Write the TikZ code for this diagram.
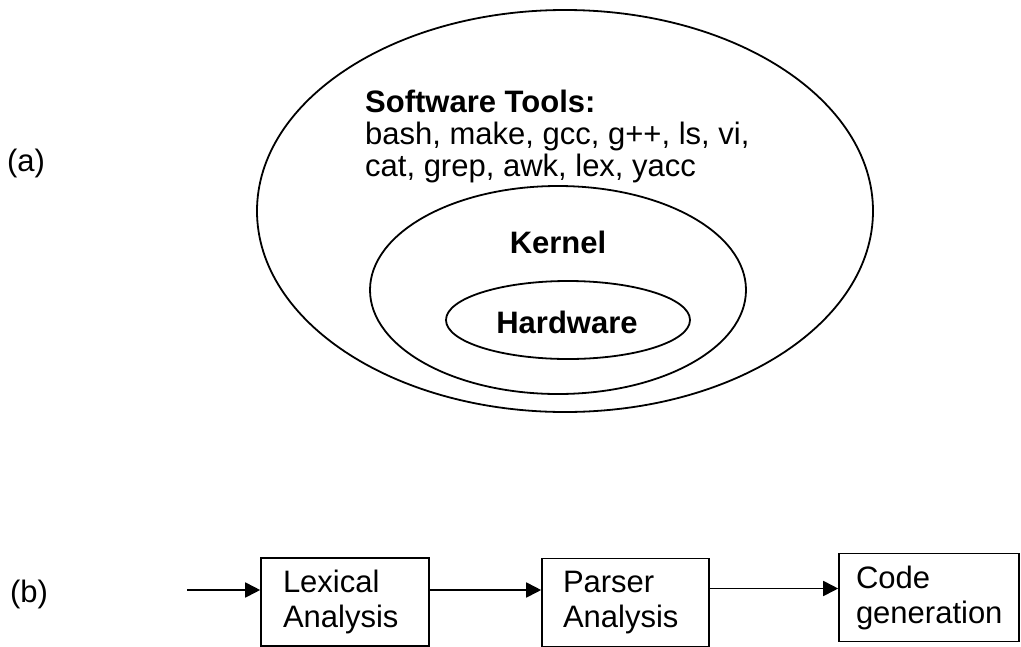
\documentclass[tikz,border=0pt]{standalone}
\usepackage{fontspec}
\setmainfont{Liberation Sans}
\usetikzlibrary{positioning, arrows.meta}

\tikzset{
  layer/.style={line width=1.8pt},
  stage/.style={draw, line width=1.6pt, align=left, inner ysep=0pt, minimum height=88pt},
  flow/.style={line width=1.8pt, -{Triangle[length=15pt, width=15pt]}},
}

\begin{document}
\begin{tikzpicture}[x=1pt, y=-1pt, font=\fontsize{31}{35}\selectfont]
    \useasboundingbox (0,0) rectangle (1021,646);
    % (a) nested layers
    \draw[layer] (565,211) ellipse [x radius=308, y radius=201];
    \draw[layer] (558,290) ellipse [x radius=188, y radius=104];
    \draw[layer] (568,320) ellipse [x radius=122, y radius=39];
    \node (labelA) at (26,163) {(a)};
    \node[anchor=west, align=left, inner sep=0pt, font=\fontsize{31}{32}\selectfont] (tools) at (365,136)
        {\textbf{Software Tools:}\\bash, make, gcc, g++, ls, vi,\\cat, grep, awk, lex, yacc};
    \node (kernel) at (558,242) {\textbf{Kernel}};
    \node (hardware) at (567,322) {\textbf{Hardware}};
    % (b) compiler stages
    \node (labelB) at (29,594) {(b)};
    \node[stage, inner xsep=22pt, text width=124pt] (lexical) at (345,602) {Lexical\\Analysis};
    \node[stage, inner xsep=21pt, text width=125pt] (parser) at (625.5,602.5) {Parser\\Analysis};
    \node[stage, inner xsep=17pt, text width=146pt] (codegen) at (929,597.5) {Code\\generation};
    \coordinate (input) at (187,590);
    \draw[flow] (input) -- (input -| lexical.west);
    \draw[flow] ([yshift=12pt]lexical.east) -- ([yshift=12pt]lexical.east -| parser.west);
    \draw[flow] ([yshift=14pt]parser.east) -- ([yshift=14pt]parser.east -| codegen.west);
\end{tikzpicture}
\end{document}
